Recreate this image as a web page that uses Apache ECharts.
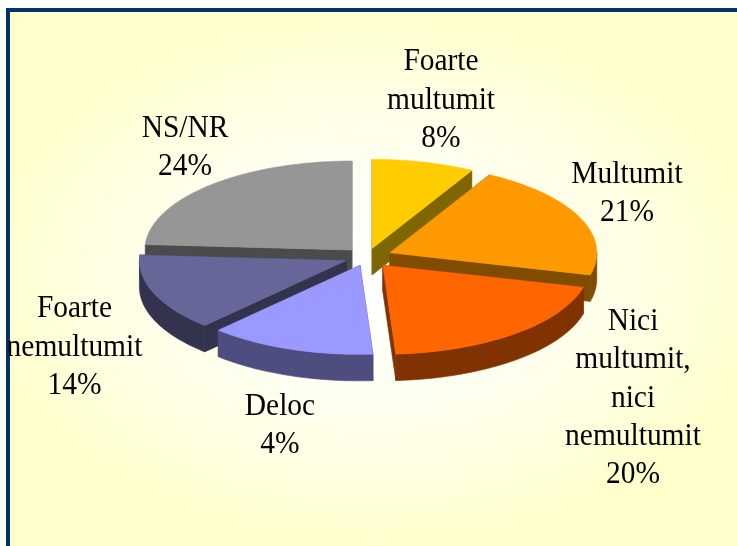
<!DOCTYPE html>
<html>
<head>
<meta charset="utf-8">
<script src="https://cdn.jsdelivr.net/npm/echarts@6/dist/echarts.min.js"></script>
<style>
html,body{margin:0;padding:0;background:#fff;width:737px;height:546px;overflow:hidden}
#frame{position:absolute;left:6px;top:8px;width:731px;height:538px;box-sizing:border-box;border-top:4px solid #003366;border-left:4px solid #003366;
background:radial-gradient(ellipse 54% 50% at 50% 50%,#ffffff 0%,#fffff4 40%,#ffffe2 72%,#ffffcc 100%)}
#main{position:absolute;left:0;top:0;width:737px;height:546px}
</style>
</head>
<body>
<div id="frame"></div>
<div id="main"></div>
<script>
const categories = [
  'Foarte\nmultumit', 'Multumit', 'Nici\nmultumit,\nnici\nnemultumit',
  'Deloc', 'Foarte\nnemultumit', 'NS/NR'
];
const printedPercent = [8, 21, 20, 4, 14, 24];
const sliceShares = [8, 21, 20, 13, 14, 24];
const topColors = ['#FFCC00', '#FF9900', '#FF6600', '#9999FF', '#666699', '#969696'];
const sideColors = ['#806600', '#804D00', '#803300', '#4D4D80', '#33334D', '#4B4B4B'];
const explodeBy = [0.1, 0.12, 0.12, 0.1, 0.107, 0.107];
const labelAnchors = [[441, 100.5], [627, 194], [633, 398.5], [280, 426], [74.5, 347.5], [185, 148]];

const CX = 367, CY = 257, RX = 207, RY = 89, DEPTH = 26.5;
const total = sliceShares.reduce((a, b) => a + b, 0);
const rad = d => d * Math.PI / 180;

const slices = [];
let acc = 0;
sliceShares.forEach((v, i) => {
  const a = acc / total * 360;
  acc += v;
  slices.push({ i, a, b: acc / total * 360 });
});
const order = slices.slice().sort((p, q) =>
  -Math.cos(rad((p.a + p.b) / 2)) - -Math.cos(rad((q.a + q.b) / 2)));

function poly(points, fill, depthRank) {
  return { type: 'polygon', shape: { points }, z2: depthRank,
    style: { fill, stroke: fill, lineWidth: 0.6 } };
}

function renderSlice(params, api) {
  const i = api.value(0), a = api.value(1), b = api.value(2), m = (a + b) / 2;
  const ox = CX + RX * explodeBy[i] * Math.sin(rad(m));
  const oy = CY - RY * explodeBy[i] * Math.cos(rad(m));
  const rim = t => [ox + RX * Math.sin(rad(t)), oy - RY * Math.cos(rad(t))];
  const down = p => [p[0], p[1] + DEPTH];
  const apex = [ox, oy];
  const children = [];

  // cut faces
  [a, b].forEach(t => {
    const r = rim(t);
    children.push(poly([apex, r, down(r), down(apex)], sideColors[i], 1));
  });
  // outer wall: only the front half of the rim is seen
  const w0 = Math.max(a, 90), w1 = Math.min(b, 270);
  if (w1 > w0) {
    const up = [];
    for (let t = w0; t <= w1 + 1e-6; t += (w1 - w0) / 60) up.push(rim(t));
    children.push(poly(up.concat(up.slice().reverse().map(down)), sideColors[i], 2));
  }
  // top surface
  const top = [apex];
  for (let t = a; t <= b + 1e-6; t += (b - a) / 80) top.push(rim(t));
  children.push(poly(top, topColors[i], 3));
  return { type: 'group', children };
}

function renderLabel(params, api) {
  const i = api.value(0);
  return {
    type: 'text', x: labelAnchors[i][0], y: labelAnchors[i][1], scaleX: 0.95,
    style: {
      text: categories[i] + '\n' + printedPercent[i] + '%',
      fontFamily: 'Liberation Serif', fontSize: 31, lineHeight: 38.4,
      fill: '#000', align: 'center', verticalAlign: 'middle'
    }
  };
}

const chart = echarts.init(document.getElementById('main'), null, { renderer: 'canvas' });
chart.setOption({
  animation: false,
  backgroundColor: 'transparent',
  series: [
    { type: 'custom', coordinateSystem: 'none', z: 2, silent: true,
      renderItem: renderSlice,
      data: order.map(s => [s.i, s.a, s.b]) },
    { type: 'custom', coordinateSystem: 'none', z: 3, silent: true,
      renderItem: renderLabel,
      data: categories.map((c, i) => [i]) }
  ]
});
</script>
</body>
</html>
